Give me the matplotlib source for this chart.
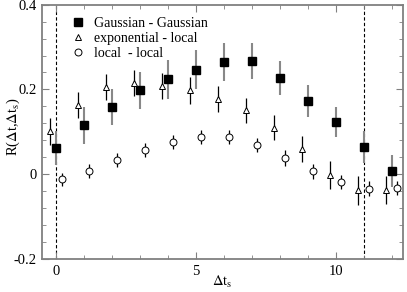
import matplotlib.pyplot as plt
from matplotlib.lines import Line2D
import numpy as np

plt.rcParams['font.family'] = ['Liberation Serif', 'DejaVu Serif']
plt.rcParams['mathtext.fontset'] = 'stix'

# data
x_gg = np.arange(0, 13)
y_gg = [0.062, 0.115, 0.158, 0.198, 0.224, 0.247, 0.264, 0.267, 0.228, 0.173, 0.123, 0.064, 0.007]
e_gg = [0.040, 0.043, 0.043, 0.043, 0.046, 0.047, 0.045, 0.043, 0.040, 0.038, 0.036, 0.038, 0.038]

x_el = np.arange(0, 13) - 0.2
y_el = [0.101, 0.164, 0.205, 0.216, 0.208, 0.198, 0.178, 0.151, 0.110, 0.060, -0.001, -0.038, -0.038]
e_el = [0.031, 0.031, 0.031, 0.031, 0.031, 0.032, 0.031, 0.030, 0.030, 0.031, 0.033, 0.034, 0.033]

x_ll = np.arange(0, 13) + 0.2
y_ll = [-0.012, 0.007, 0.033, 0.057, 0.076, 0.088, 0.088, 0.069, 0.038, 0.007, -0.019, -0.034, -0.033]
e_ll = [0.016, 0.017, 0.017, 0.017, 0.017, 0.017, 0.017, 0.017, 0.019, 0.018, 0.017, 0.017, 0.017]

labels = ['Gaussian - Gaussian', 'exponential - local', 'local  - local']

fig = plt.figure(figsize=(4.07, 2.92), dpi=100)
ax = fig.add_axes([0.103, 0.113, 0.887, 0.871])

ax.axvline(0, color='k', ls='--', lw=0.8, dashes=(3, 2), zorder=1)
ax.axvline(11, color='k', ls='--', lw=0.8, dashes=(3, 2), zorder=1)

ax.errorbar(x_gg, y_gg, yerr=e_gg, fmt='s', ms=5.5, mfc='k', mec='k',
            ecolor='#888888', elinewidth=1.5, capsize=0)
ax.errorbar(x_el, y_el, yerr=e_el, fmt='^', ms=5, mfc='white', mec='k', mew=0.7,
            ecolor='k', elinewidth=0.9, capsize=0)
ax.errorbar(x_ll, y_ll, yerr=e_ll, fmt='o', ms=5, mfc='white', mec='k', mew=0.7,
            ecolor='k', elinewidth=0.9, capsize=0)

handles = [Line2D([], [], ls='', marker='s', ms=5.5, mfc='k', mec='k'),
           Line2D([], [], ls='', marker='^', ms=5, mfc='white', mec='k', mew=0.7),
           Line2D([], [], ls='', marker='o', ms=5, mfc='white', mec='k', mew=0.7)]
ax.legend(handles, labels, loc='upper left', bbox_to_anchor=(0.045, 1.0), frameon=False,
          fontsize=10, handletextpad=0.7, labelspacing=0.12, handlelength=1.0)

ax.set_xlim(-0.5, 12.4)
ax.set_ylim(-0.2, 0.4)
ax.set_xticks([0, 5, 10])
ax.set_xticks(np.arange(0, 13), minor=True)
ax.set_yticks([-0.2, 0, 0.2, 0.4])
ax.set_yticklabels(['-0.2', '0', '0.2', '0.4'])
ax.set_yticks(np.arange(-0.2, 0.41, 0.04), minor=True)
ax.tick_params(which='both', direction='in', top=True, right=True, color='#808080', labelsize=10.5)
ax.tick_params(which='major', length=5, pad=4)
ax.tick_params(which='minor', length=3)
for s in ax.spines.values():
    s.set_color('#808080')
    s.set_linewidth(1.3)

ax.set_xlabel(r'$\Delta$t$_{\rm s}$', fontsize=10.5, va='center')
ax.xaxis.set_label_coords(0.50, -0.09)
ax.set_ylabel(r'R($\Delta$t,$\Delta$t$_{\rm s}$)', fontsize=10.5, va='center')
ax.yaxis.set_label_coords(-0.078, 0.52)

plt.savefig('out.png', dpi=100)
